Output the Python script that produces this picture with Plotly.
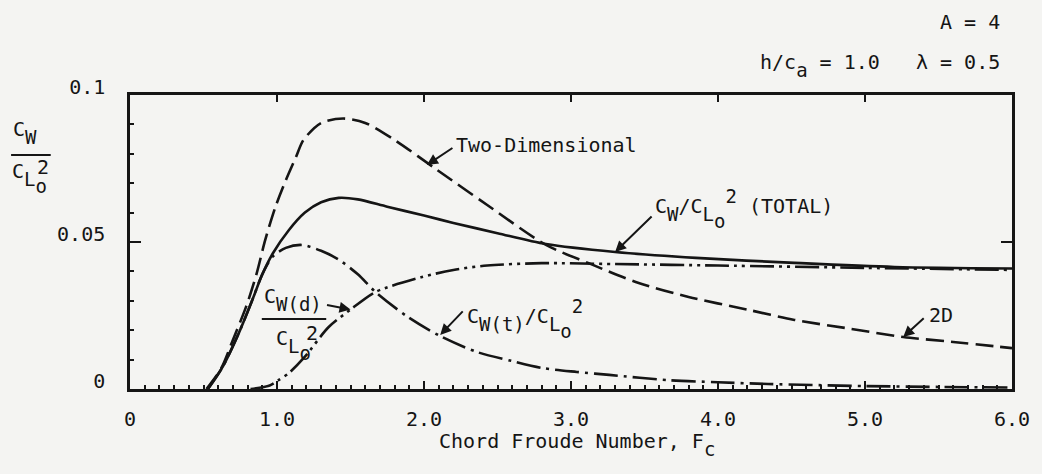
import plotly.graph_objects as go

# Chord Froude number samples and wave-drag ratios C_W / C_Lo^2
f_2d = [0.52, 0.62, 0.70, 0.79, 0.86, 0.92, 0.99, 1.06, 1.13, 1.18, 1.30, 1.45,
        1.60, 1.80, 2.09, 2.43, 2.83, 3.12, 3.44, 3.80, 4.20, 4.52, 4.90, 5.26,
        5.60, 6.00]
c_2d = [0.0, 0.007, 0.0167, 0.028, 0.039, 0.0507, 0.062, 0.071, 0.079, 0.0847,
        0.0905, 0.092, 0.0905, 0.0847, 0.0745, 0.0626, 0.049, 0.0428, 0.0364,
        0.0313, 0.027, 0.0235, 0.0205, 0.0177, 0.016, 0.0139]

f_total = [0.53, 0.63, 0.74, 0.83, 0.90, 0.97, 1.08, 1.19, 1.30, 1.42, 1.55,
           1.75, 2.00, 2.20, 2.50, 2.83, 3.30, 3.85, 4.52, 5.20, 6.00]
c_total = [0.0, 0.0075, 0.019, 0.030, 0.039, 0.046, 0.054, 0.060, 0.0635,
           0.065, 0.0645, 0.062, 0.059, 0.0565, 0.053, 0.0493, 0.0466, 0.0446,
           0.0429, 0.0415, 0.041]

f_t = [0.53, 0.63, 0.74, 0.83, 0.90, 0.97, 1.06, 1.17, 1.30, 1.42, 1.55, 1.67,
       1.89, 2.11, 2.36, 2.60, 2.81, 3.04, 3.26, 3.66, 4.00, 4.34, 5.00, 5.50,
       6.00]
c_t = [0.0, 0.0075, 0.019, 0.030, 0.039, 0.045, 0.048, 0.049, 0.047, 0.044,
       0.039, 0.033, 0.0245, 0.018, 0.0126, 0.0095, 0.0071, 0.0058, 0.0048,
       0.003, 0.0023, 0.0017, 0.001, 0.0007, 0.0005]

f_d = [0.82, 0.95, 1.01, 1.08, 1.19, 1.35, 1.50, 1.67, 1.98, 2.20, 2.43, 2.80,
       3.30, 4.00, 5.00, 6.00]
c_d = [0.0, 0.0012, 0.003, 0.0054, 0.011, 0.021, 0.027, 0.033, 0.038, 0.0405,
       0.042, 0.0428, 0.0425, 0.042, 0.0412, 0.0405]

x_ticks = [0, 1, 2, 3, 4, 5, 6]
x_tick_text = ["0", "1.0", "2.0", "3.0", "4.0", "5.0", "6.0"]
y_ticks = [0, 0.05, 0.1]
y_tick_text = ["0", "0.05", "0.1"]

FONT = "DejaVu Sans Mono"
INK = "#151515"
W, H = 1042, 474
ML, MR, MT, MB = 130, 22, 95, 85
PW, PH = W - ML - MR, H - MT - MB


def shifted(s, dy, size=19):
    # typewriter-style sub/superscript: near full size, baseline moved by dy px
    return f"<span style='font-size:{size}px;baseline-shift:{dy}px'>{s}</span>"


def sub(s):
    return shifted(s, -8)


def sup(s):
    return shifted(s, 10)


CLO = "C" + sub("L") + shifted("o", -15)


def px(x):
    return (x - ML) / PW


def py(y):
    return (H - MB - y) / PH


fig = go.Figure()

line_kw = dict(color=INK, width=2.6)
fig.add_trace(go.Scatter(x=f_2d, y=c_2d, mode="lines",
                         line=dict(**line_kw, dash="18px,7px", shape="spline", smoothing=0.8)))
fig.add_trace(go.Scatter(x=f_total, y=c_total, mode="lines",
                         line=dict(**line_kw, shape="spline", smoothing=0.8)))
fig.add_trace(go.Scatter(x=f_t, y=c_t, mode="lines",
                         line=dict(**line_kw, dash="24px,6px,3px,6px", shape="spline", smoothing=0.8)))
fig.add_trace(go.Scatter(x=f_d, y=c_d, mode="lines",
                         line=dict(**line_kw, dash="24px,5px,3px,5px,3px,5px", shape="spline", smoothing=0.8)))
# carrier for the mirrored top / right frame axes
fig.add_trace(go.Scatter(x=[None], y=[None], xaxis="x2", yaxis="y2", hoverinfo="skip"))

tick_font = dict(family=FONT, size=20, color=INK)
fig.update_layout(
    width=W, height=H,
    margin=dict(l=ML, r=MR, t=MT, b=MB),
    paper_bgcolor="#f4f4f2", plot_bgcolor="#f4f4f2",
    showlegend=False,
    font=dict(family=FONT, size=20, color=INK),
    xaxis=dict(range=[0, 6], tickvals=x_ticks, ticktext=x_tick_text,
               ticks="inside", ticklen=8, tickwidth=2, tickcolor=INK,
               minor=dict(dtick=0.1, ticks="inside", ticklen=4, tickwidth=1.5, tickcolor=INK),
               showline=True, linewidth=2.5, linecolor=INK, showgrid=False, zeroline=False,
               tickfont=tick_font, ticklabelstandoff=10),
    yaxis=dict(range=[0, 0.1], tickvals=y_ticks, ticktext=y_tick_text,
               ticks="inside", ticklen=11, tickwidth=2, tickcolor=INK,
               minor=dict(dtick=0.01, ticks="inside", ticklen=4, tickwidth=1.5, tickcolor=INK),
               showline=True, linewidth=2.5, linecolor=INK, showgrid=False, zeroline=False,
               tickfont=tick_font, ticklabelstandoff=18, ticklabelshift=-8),
    xaxis2=dict(range=[0, 6], overlaying="x", side="top", tickvals=[1, 2, 3, 4, 5],
                ticks="inside", ticklen=7, tickwidth=2, tickcolor=INK,
                showticklabels=False, showline=True, linewidth=2.5, linecolor=INK,
                showgrid=False, zeroline=False),
    yaxis2=dict(range=[0, 0.1], overlaying="y", side="right", tickvals=[0.05],
                ticks="inside", ticklen=11, tickwidth=2, tickcolor=INK,
                showticklabels=False, showline=True, linewidth=2.5, linecolor=INK,
                showgrid=False, zeroline=False),
)

ann = []


def label(text, x, y, xanchor="left", yanchor="middle", size=20):
    ann.append(dict(text=text, x=px(x), y=py(y), xref="paper", yref="paper",
                    xanchor=xanchor, yanchor=yanchor, showarrow=False,
                    font=dict(family=FONT, size=size, color=INK)))


def arrow(fx, cy, ax, ay):
    ann.append(dict(text="", x=fx, y=cy, xref="x", yref="y", ax=ax, ay=ay,
                    showarrow=True, arrowhead=2, arrowsize=1.1, arrowwidth=2,
                    arrowcolor=INK, standoff=0))


# header parameters
label("A = 4", 1010, 22, xanchor="right")
label("h/c" + sub("a") + " = 1.0\u00a0\u00a0\u00a0\u03bb = 0.5", 1010, 65, xanchor="right")

# axis titles
label("Chord Froude Number, F" + sub("c"), 581, 444, xanchor="center")
label("C" + sub("W"), 10, 132)
label(CLO, 9, 178)
label("2", 34, 167)

# curve labels
label("Two-Dimensional", 457, 145)
label("C" + sub("W") + "/" + CLO + sup("2") + " (TOTAL)", 658, 208)
label("C" + sub("W(t)") + "/" + CLO + sup("2"), 468, 318)
label("C" + sub("W(d)"), 263, 299)
label(CLO, 275, 345)
label("2", 306, 333)
label("2D", 934, 315)

# leader arrows, tips on the curves
arrow(2.02, 0.0762, 27, -18)
arrow(3.30, 0.0466, 38, -37)
arrow(2.11, 0.0184, 24, -25)
arrow(1.50, 0.0270, -25, -5)
arrow(5.26, 0.0177, 22, -20)

fig.update_layout(annotations=ann)

# fraction bars for the stacked labels
for x0, x1, y in [(10, 50, 155), (263, 328, 319)]:
    fig.add_shape(type="line", xref="paper", yref="paper",
                  x0=px(x0), x1=px(x1), y0=py(y), y1=py(y),
                  line=dict(color=INK, width=2))

fig.write_html("out.html")
